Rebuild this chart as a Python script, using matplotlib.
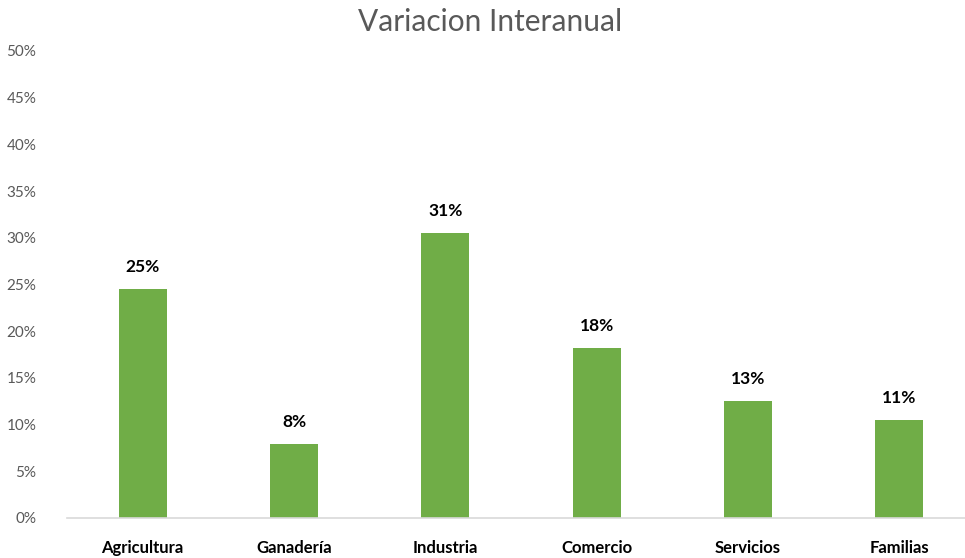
import matplotlib
matplotlib.use("Agg")
import matplotlib.pyplot as plt
from matplotlib.ticker import FuncFormatter, MultipleLocator

categories = ["Agricultura", "Ganadería", "Industria", "Comercio", "Servicios", "Familias"]
values = [24.5, 7.9, 30.5, 18.2, 12.5, 10.5]  # percent

BAR_COLOR = "#70AD47"
GREY = "#595959"

plt.rcParams["font.family"] = ["Lato", "DejaVu Sans"]

fig = plt.figure(figsize=(9.65, 5.58), dpi=100)
ax = fig.add_axes([67 / 965, 1 - 517.7 / 558, 908 / 965, (517.7 - 51) / 558])

x = list(range(len(categories)))
bars = ax.bar(x, values, width=0.315, color=BAR_COLOR, zorder=2)

for b, v in zip(bars, values):
    ax.annotate(f"{int(v + 0.5)}%", (b.get_x() + b.get_width() / 2, v),
                xytext=(0, 10), textcoords="offset points",
                ha="center", va="bottom", fontsize=12.5, fontweight="bold",
                color="black")

ax.set_xlim(-0.5, len(categories) - 0.5)
ax.set_ylim(0, 50)
ax.yaxis.set_major_locator(MultipleLocator(5))
ax.yaxis.set_major_formatter(FuncFormatter(lambda v, _: f"{v:.0f}%"))

for side in ["top", "right", "left"]:
    ax.spines[side].set_visible(False)
ax.spines["bottom"].set_color("#D9D9D9")
ax.spines["bottom"].set_linewidth(1.2)

ax.set_xticks(x)
ax.set_xticklabels(categories, fontsize=12, fontweight="bold", color="black")
ax.tick_params(axis="x", length=0, pad=16)
ax.tick_params(axis="y", length=0, pad=22, labelsize=11, labelcolor=GREY)

fig.text(490 / 965, 1 - 22 / 558, "Variacion Interanual", ha="center", va="center",
         fontsize=21.5, color=GREY)

fig.savefig("out.png", dpi=100)
